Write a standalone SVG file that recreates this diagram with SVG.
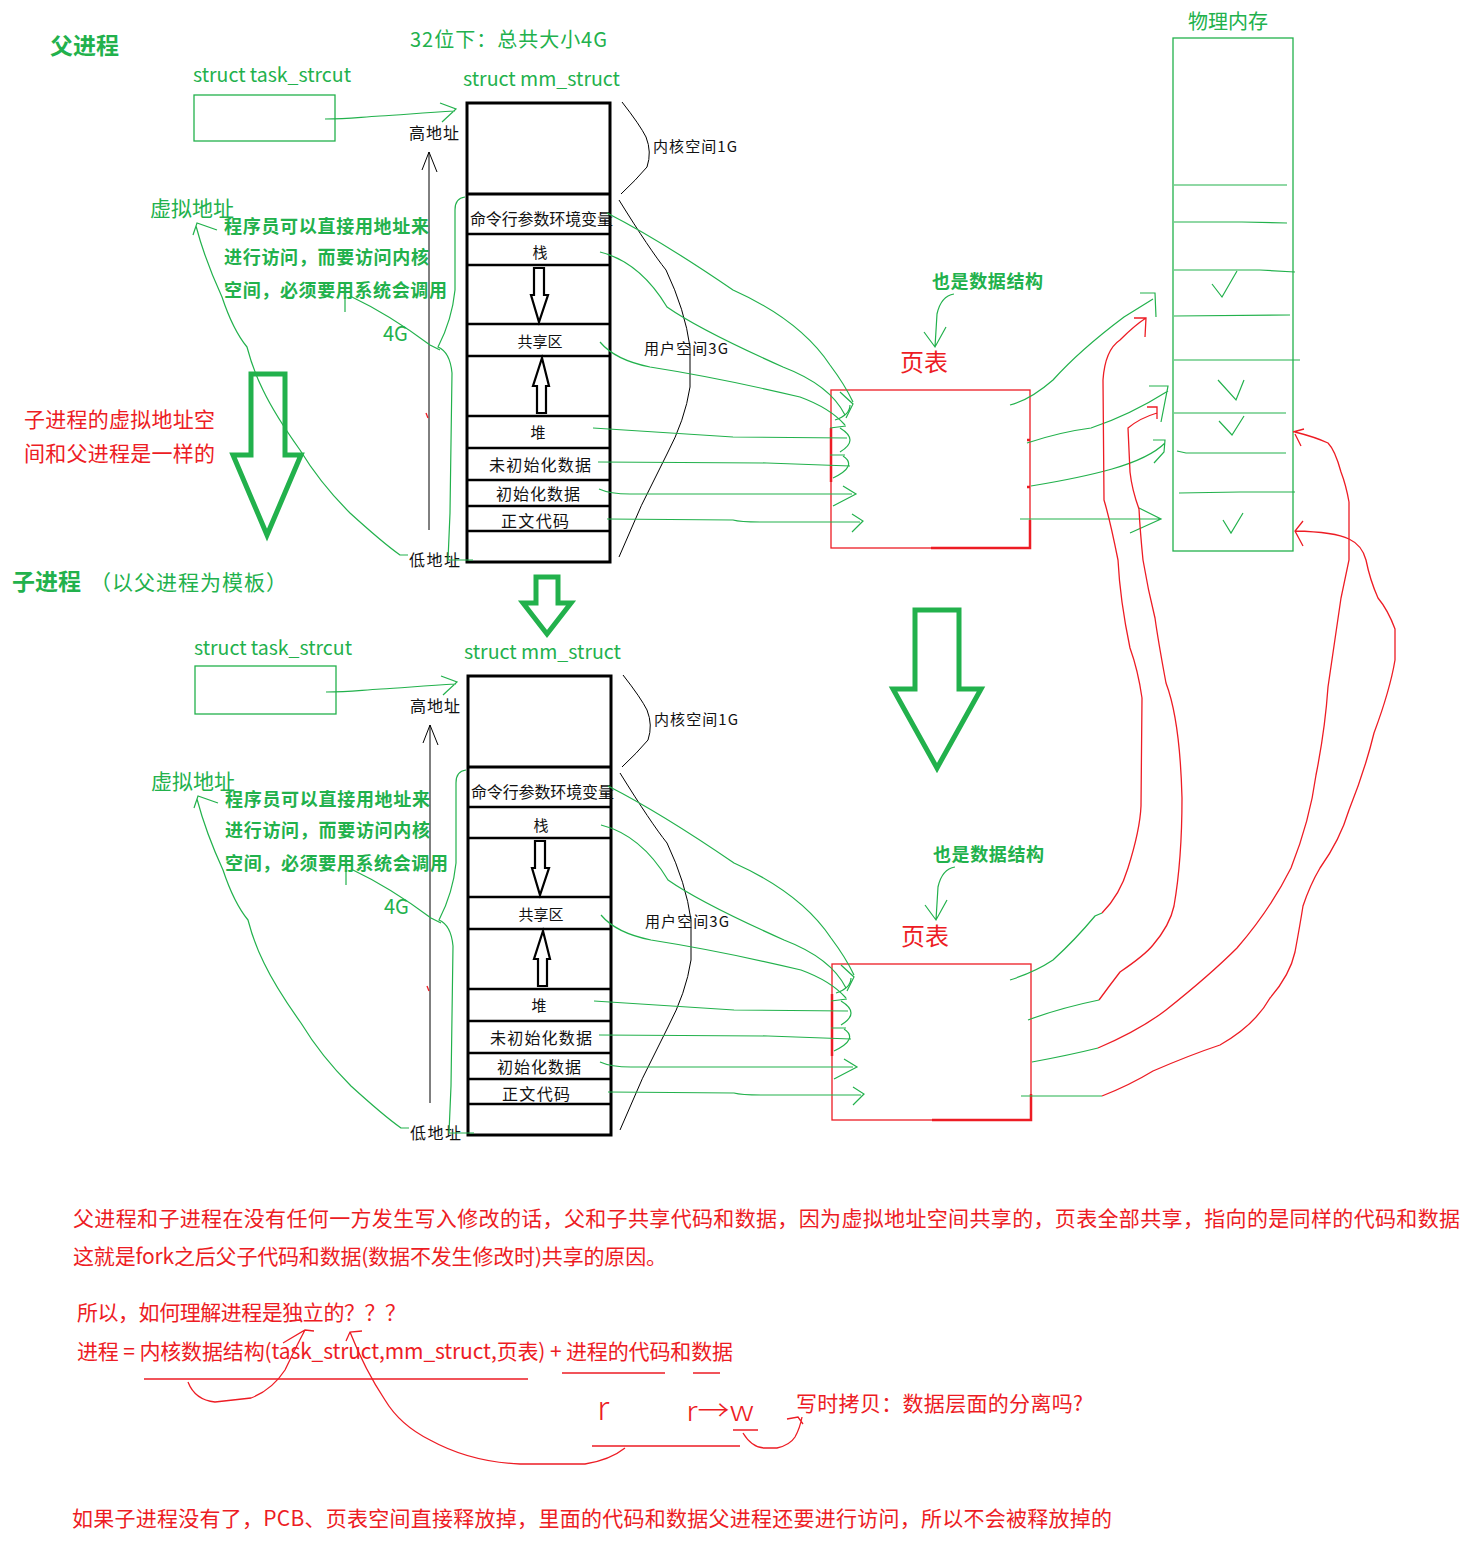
<svg xmlns="http://www.w3.org/2000/svg" width="1470" height="1550" viewBox="0 0 1470 1550">
<style>
text{font-family:"Noto Sans CJK SC","Open Sans",sans-serif}
.gt{fill:#22B14C}
.gb{fill:#22B14C;font-weight:bold}
.rt{fill:#ED1C24}
.kt{fill:#111}
.g{fill:none;stroke:#22B14C;stroke-width:1.2}
.gbox{fill:none;stroke:#22B14C;stroke-width:1.3}
.r{fill:none;stroke:#ED1C24;stroke-width:1.3}
.k{fill:none;stroke:#000;stroke-width:1}
.box{fill:none;stroke:#000;stroke-width:3}
.row{fill:none;stroke:#000;stroke-width:2.5}
.big{fill:none;stroke:#22B14C;stroke-width:5;stroke-linejoin:miter}
</style>
<rect width="1470" height="1550" fill="#fff"/>

<!-- ========== PARENT ========== -->
<g id="title-parent">
<text x="50" y="54" class="gb" font-size="23">父进程</text>
<text x="410" y="47" class="gt" font-size="20" textLength="197">32位下：总共大小4G</text>
</g>

<g id="parent-task">
<text x="193" y="82" class="gt" font-size="19" textLength="158" lengthAdjust="spacingAndGlyphs">struct task_strcut</text>
<rect x="194" y="95" width="141" height="46" class="gbox"/>
</g>

<g id="parent-mm">
<text x="463" y="86" class="gt" font-size="19" textLength="157" lengthAdjust="spacingAndGlyphs">struct mm_struct</text>
<rect x="467" y="103" width="143" height="459" class="box"/>
<line x1="467" y1="194" x2="610" y2="194" stroke="#000" stroke-width="3"/>
<line x1="467" y1="234" x2="610" y2="234" class="row"/>
<line x1="467" y1="265" x2="610" y2="265" class="row"/>
<line x1="467" y1="324" x2="610" y2="324" class="row"/>
<line x1="467" y1="356" x2="610" y2="356" class="row"/>
<line x1="467" y1="416" x2="610" y2="416" class="row"/>
<line x1="467" y1="448" x2="610" y2="448" class="row"/>
<line x1="467" y1="480" x2="610" y2="480" class="row"/>
<line x1="467" y1="506" x2="610" y2="506" class="row"/>
<line x1="467" y1="531" x2="610" y2="531" class="row"/>
<text x="470" y="225" class="kt" font-size="16" textLength="143">命令行参数环境变量</text>
<text x="540" y="258" class="kt" font-size="15" text-anchor="middle">栈</text>
<text x="540" y="347" class="kt" font-size="15" text-anchor="middle">共享区</text>
<text x="538" y="438" class="kt" font-size="15" text-anchor="middle">堆</text>
<text x="489" y="471" class="kt" font-size="16" textLength="102">未初始化数据</text>
<text x="496" y="500" class="kt" font-size="16" textLength="84">初始化数据</text>
<text x="501" y="527" class="kt" font-size="16" textLength="68">正文代码</text>
<polygon points="534,268 544,268 544,295 548,295 539,322 531,295 534,295" fill="none" stroke="#000" stroke-width="2.2"/>
<polygon points="537,413 546,413 546,386 549,386 542,358 533,386 537,386" fill="none" stroke="#000" stroke-width="2.2"/>
</g>

<g id="parent-addr">
<path d="M429,530 L429,152 M422,170 L429,152 L437,172" class="k" stroke-width="2.2"/>
<path d="M426,413 L428,418" class="r"/>
<text x="409" y="139" class="kt" font-size="16" textLength="50">高地址</text>
<text x="409" y="566" class="kt" font-size="16" textLength="51">低地址</text>
<text x="383" y="341" class="gt" font-size="20">4G</text>
<path d="M622,102 Q640,125 646,137 Q652,152 647,167 Q636,180 621,194" class="k"/>
<path d="M619,200 Q650,250 666,270 Q685,310 690,347 L690,387 Q685,420 667,454 Q640,505 619,557" class="k"/>
<text x="653" y="152" class="kt" font-size="15" textLength="84">内核空间1G</text>
<text x="644" y="354" class="kt" font-size="15" textLength="84">用户空间3G</text>
</g>

<g id="parent-virtual-note">
<text x="150" y="216" class="gt" font-size="21">虚拟地址</text>
<text x="224" y="233" class="gb" font-size="18" textLength="205">程序员可以直接用地址来</text>
<text x="224" y="264" class="gb" font-size="18" textLength="205">进行访问，而要访问内核</text>
<text x="224" y="297" class="gb" font-size="18" textLength="223">空间，必须要用系统会调用</text>
</g>

<g id="parent-pagetable">
<text x="900" y="371" class="rt" font-size="24">页表</text>
<rect x="831" y="390" width="199" height="158" fill="none" stroke="#ED1C24" stroke-width="1.3"/>
<path d="M931,548 L1030,548 L1030,520 M831,428 L831,482 M1027,440 L1030,440 M1027,487 L1030,487" fill="none" stroke="#ED1C24" stroke-width="2.5"/>
<text x="932" y="288" class="gb" font-size="18" textLength="111">也是数据结构</text>
</g>

<g id="physical-memory">
<text x="1188" y="29" class="gt" font-size="20">物理内存</text>
<rect x="1173" y="38" width="120" height="513" class="gbox"/>
<path d="M1174,185 L1287,185 M1174,222 L1242,222 L1287,223 M1174,270 L1260,270 L1295,272 M1174,316 L1290,315 M1174,360 L1300,360 M1174,413 L1286,413 M1177,451 L1186,453 L1286,453 M1179,493 L1240,492 L1295,492" class="g"/>
<path d="M1212,284 L1222,297 L1237,271 M1218,380 L1236,400 L1244,380 M1219,421 L1232,435 L1244,416 M1223,520 L1231,533 L1243,513" class="g"/>
</g>

<g id="big-arrows">
<polygon points="251,374 285,374 285,455 301,455 267,535 233,455 251,455" class="big"/>
<polygon points="536,577 558,577 558,603 571,603 547,634 523,603 536,603" class="big" stroke-width="4"/>
<polygon points="915,610 959,610 959,689 981,689 937,768 893,689 915,689" class="big"/>
</g>

<g id="side-notes">
<text x="24" y="427" class="rt" font-size="21" textLength="191">子进程的虚拟地址空</text>
<text x="24" y="461" class="rt" font-size="21" textLength="191">间和父进程是一样的</text>
<text x="12" y="590" class="gb" font-size="23">子进程</text>
<text x="90" y="590" class="gt" font-size="21" textLength="197">（以父进程为模板）</text>
</g>

<!-- ========== CHILD ========== -->
<g id="child-task" transform="translate(1,573)">
<text x="193" y="82" class="gt" font-size="19" textLength="158" lengthAdjust="spacingAndGlyphs">struct task_strcut</text>
<rect x="194" y="93" width="141" height="48" class="gbox"/>
</g>

<g id="child-mm" transform="translate(1,573)">
<text x="463" y="86" class="gt" font-size="19" textLength="157" lengthAdjust="spacingAndGlyphs">struct mm_struct</text>
<rect x="467" y="103" width="143" height="459" class="box"/>
<line x1="467" y1="194" x2="610" y2="194" stroke="#000" stroke-width="3"/>
<line x1="467" y1="234" x2="610" y2="234" class="row"/>
<line x1="467" y1="265" x2="610" y2="265" class="row"/>
<line x1="467" y1="324" x2="610" y2="324" class="row"/>
<line x1="467" y1="356" x2="610" y2="356" class="row"/>
<line x1="467" y1="416" x2="610" y2="416" class="row"/>
<line x1="467" y1="448" x2="610" y2="448" class="row"/>
<line x1="467" y1="480" x2="610" y2="480" class="row"/>
<line x1="467" y1="506" x2="610" y2="506" class="row"/>
<line x1="467" y1="531" x2="610" y2="531" class="row"/>
<text x="470" y="225" class="kt" font-size="16" textLength="143">命令行参数环境变量</text>
<text x="540" y="258" class="kt" font-size="15" text-anchor="middle">栈</text>
<text x="540" y="347" class="kt" font-size="15" text-anchor="middle">共享区</text>
<text x="538" y="438" class="kt" font-size="15" text-anchor="middle">堆</text>
<text x="489" y="471" class="kt" font-size="16" textLength="102">未初始化数据</text>
<text x="496" y="500" class="kt" font-size="16" textLength="84">初始化数据</text>
<text x="501" y="527" class="kt" font-size="16" textLength="68">正文代码</text>
<polygon points="534,268 544,268 544,295 548,295 539,322 531,295 534,295" fill="none" stroke="#000" stroke-width="2.2"/>
<polygon points="537,413 546,413 546,386 549,386 542,358 533,386 537,386" fill="none" stroke="#000" stroke-width="2.2"/>
</g>

<g id="child-addr" transform="translate(1,573)">
<path d="M429,530 L429,152 M422,170 L429,152 L437,172" class="k" stroke-width="2.2"/>
<path d="M426,413 L428,418" class="r"/>
<text x="409" y="139" class="kt" font-size="16" textLength="50">高地址</text>
<text x="409" y="566" class="kt" font-size="16" textLength="51">低地址</text>
<text x="383" y="341" class="gt" font-size="20">4G</text>
<path d="M622,102 Q640,125 646,137 Q652,152 647,167 Q636,180 621,194" class="k"/>
<path d="M619,200 Q650,250 666,270 Q685,310 690,347 L690,387 Q685,420 667,454 Q640,505 619,557" class="k"/>
<text x="653" y="152" class="kt" font-size="15" textLength="84">内核空间1G</text>
<text x="644" y="354" class="kt" font-size="15" textLength="84">用户空间3G</text>
</g>

<g id="child-virtual-note" transform="translate(1,573)">
<text x="150" y="216" class="gt" font-size="21">虚拟地址</text>
<text x="224" y="233" class="gb" font-size="18" textLength="205">程序员可以直接用地址来</text>
<text x="224" y="264" class="gb" font-size="18" textLength="205">进行访问，而要访问内核</text>
<text x="224" y="297" class="gb" font-size="18" textLength="223">空间，必须要用系统会调用</text>
</g>

<g id="child-pagetable" transform="translate(1,574)">
<text x="900" y="371" class="rt" font-size="24">页表</text>
<rect x="831" y="390" width="199" height="156" fill="none" stroke="#ED1C24" stroke-width="1.3"/>
<path d="M931,546 L1030,546 L1030,520 M831,420 L831,482" fill="none" stroke="#ED1C24" stroke-width="2.5"/>
<text x="932" y="287" class="gb" font-size="18" textLength="111">也是数据结构</text>
</g>

<!-- ========== NOTES ========== -->
<g id="bottom-notes">
<text x="73" y="1226" class="rt" font-size="21" textLength="1387">父进程和子进程在没有任何一方发生写入修改的话，父和子共享代码和数据，因为虚拟地址空间共享的，页表全部共享，指向的是同样的代码和数据</text>
<text x="73" y="1264" class="rt" font-size="21" textLength="594">这就是fork之后父子代码和数据(数据不发生修改时)共享的原因。</text>
<text x="77" y="1320" class="rt" font-size="21" textLength="329">所以，如何理解进程是独立的？？？</text>
<text x="77" y="1359" class="rt" font-size="21" textLength="656">进程 = 内核数据结构(task_struct,mm_struct,页表) + 进程的代码和数据</text>
<text x="796" y="1411" class="rt" font-size="21" textLength="287">写时拷贝：数据层面的分离吗?</text>
<text x="597" y="1420" class="rt" font-size="34" font-weight="300" font-family="Open Sans, sans-serif">r</text>
<text x="686" y="1421" class="rt" font-size="28" font-weight="300" font-family="Open Sans, sans-serif" textLength="68" lengthAdjust="spacingAndGlyphs">r→w</text>
<text x="72" y="1526" class="rt" font-size="21" textLength="1040">如果子进程没有了，PCB、页表空间直接释放掉，里面的代码和数据父进程还要进行访问，所以不会被释放掉的</text>
</g>

<!-- ========== CONNECTORS ========== -->
<g id="connectors">
<!-- parent -->
<path d="M325,119 C350,119 360,117 380,116 S420,113 455,111 M440,103 L456,109 L442,122" class="g"/>
<path d="M607,213 Q660,240 733,290 Q800,320 830,365 Q845,385 853,402 M840,392 L853,404 L846,418" class="g"/>
<path d="M600,252 Q640,262 667,307 Q700,330 783,367 Q830,385 845,415 M835,420 Q850,415 850,405" class="g"/>
<path d="M600,342 Q615,360 650,367 Q720,378 800,397 Q830,408 845,425 M830,428 L846,426" class="g"/>
<path d="M593,428 Q660,432 733,437 L847,438 M840,428 Q860,440 840,452 M830,455 L845,455" class="g"/>
<path d="M598,462 L767,463 L850,466 M843,456 Q858,466 833,478" class="g"/>
<path d="M599,489 Q610,494 630,494 L852,494 M843,486 L856,494 L833,506" class="g"/>
<path d="M607,519 L733,520 Q740,522 760,522 L860,522 M852,514 L863,521 L852,532" class="g"/>
<path d="M1010,405 Q1030,400 1053,380 Q1080,350 1124,317 L1153,299 M1140,293 L1155,293 L1156,317" class="g"/>
<path d="M1027,443 Q1060,432 1091,428 Q1130,415 1168,391 M1149,386 L1168,386 L1161,422" class="g"/>
<path d="M1031,486 Q1080,478 1112,469 Q1150,458 1165,443 M1153,440 L1165,440 L1164,452 L1154,463" class="g"/>
<path d="M1020,519 L1161,519 M1139,508 L1161,519 L1130,533" class="g"/>
<path d="M217,230 L197,223 L193,235 M196,226 Q205,260 222,297 Q233,330 247,347 Q253,370 263,390 Q275,415 300,450 Q320,483 350,513 Q383,543 400,555 L408,555" class="g"/>
<path d="M345,297 L345,312 M350,296 Q390,315 430,345 L440,350" class="g"/>
<path d="M465,197 Q455,198 455,210 L455,290 Q452,320 438,347 Q450,352 452,373 L450,513 L448,560 L473,560" class="g"/>
<path d="M954,294 Q941,296 937,314 L935,347 M924,332 L935,347 L946,327" class="g"/>
<!-- child -->
<g transform="translate(1,573)">
<path d="M325,119 C350,119 360,117 380,116 S420,113 455,111 M440,103 L456,109 L442,122" class="g"/>
<path d="M607,213 Q660,240 733,290 Q800,320 830,365 Q845,385 853,402 M840,392 L853,404 L846,418" class="g"/>
<path d="M600,252 Q640,262 667,307 Q700,330 783,367 Q830,385 845,415 M835,420 Q850,415 850,405" class="g"/>
<path d="M600,342 Q615,360 650,367 Q720,378 800,397 Q830,408 845,425 M830,428 L846,426" class="g"/>
<path d="M593,428 Q660,432 733,437 L847,438 M840,428 Q860,440 840,452 M830,455 L845,455" class="g"/>
<path d="M598,462 L767,463 L850,466 M843,456 Q858,466 833,478" class="g"/>
<path d="M599,489 Q610,494 630,494 L852,494 M843,486 L856,494 L833,506" class="g"/>
<path d="M607,519 L733,520 Q740,522 760,522 L860,522 M852,514 L863,521 L852,532" class="g"/>
<path d="M217,230 L197,223 L193,235 M196,226 Q205,260 222,297 Q233,330 247,347 Q253,370 263,390 Q275,415 300,450 Q320,483 350,513 Q383,543 400,555 L408,555" class="g"/>
<path d="M345,297 L345,312 M350,296 Q390,315 430,345 L440,350" class="g"/>
<path d="M465,197 Q455,198 455,210 L455,290 Q452,320 438,347 Q450,352 452,373 L450,513 L448,560 L473,560" class="g"/>
<path d="M954,294 Q941,296 937,314 L935,347 M924,332 L935,347 L946,327" class="g"/>
</g>
<path d="M1010,980 Q1035,972 1053,960 Q1075,940 1095,916 L1102,913" class="g"/>
<path d="M1028,1020 Q1060,1008 1099,1000" class="g"/>
<path d="M1032,1062 Q1070,1055 1098,1048" class="g"/>
<path d="M1021,1096 L1102,1096" class="g"/>
<!-- red curves: child page table to physical memory -->
<path d="M1102,913 Q1120,895 1128,868 Q1140,830 1141,806 L1142,698 Q1138,670 1130,648 Q1120,600 1118,560 Q1110,520 1104,500 L1103,380 Q1105,350 1120,340 Q1135,325 1146,318 M1134,318 L1146,318 L1145,337" class="r"/>
<path d="M1099,1000 Q1110,985 1120,972 Q1145,955 1153,945 Q1170,925 1174,906 Q1182,860 1182,798 Q1180,720 1166,683 Q1158,640 1155,618 Q1148,590 1143,560 Q1140,530 1139,509 Q1132,490 1130,472 L1128,428 Q1140,418 1157,413 M1147,407 L1157,407 L1157,419" class="r"/>
<path d="M1098,1048 Q1140,1030 1166,1010 Q1210,975 1237,948 Q1270,910 1291,868 Q1310,820 1316,775 Q1325,730 1328,687 Q1335,640 1341,598 L1349,560 L1349,502 Q1346,485 1341,472 Q1335,450 1328,443 Q1315,437 1295,432 M1293,432 L1304,429 M1295,434 L1301,446" class="r"/>
<path d="M1102,1096 Q1130,1085 1153,1071 Q1190,1055 1220,1045 Q1255,1025 1270,998 Q1290,975 1295,952 Q1300,925 1303,906 Q1310,885 1320,868 Q1340,840 1349,810 Q1365,770 1374,733 Q1390,690 1395,660 L1395,629 Q1388,610 1378,598 Q1370,580 1366,560 Q1362,545 1349,539 Q1335,532 1295,531 M1303,521 L1295,531 L1303,546" class="r"/>
<!-- bottom annotations -->
<path d="M144,1379 L528,1379 M562,1373 L665,1373 M693,1373 L720,1373 M592,1446 L740,1446 M733,1430 L758,1430" class="r"/>
<path d="M188,1382 Q195,1400 215,1402 L251,1398 Q272,1390 285,1370 Q297,1345 305,1330 M283,1343 L305,1330 L314,1331" class="r"/>
<path d="M346,1341 L350,1332 L362,1331 M350,1332 Q365,1370 385,1400 Q400,1425 430,1440 Q470,1462 520,1464 L585,1464 Q610,1460 625,1448" class="r"/>
<path d="M743,1433 Q752,1448 765,1448 L777,1448 Q790,1445 795,1437 Q800,1428 802,1417 M787,1419 L798,1417 L803,1424" class="r"/>
</g>
</svg>
